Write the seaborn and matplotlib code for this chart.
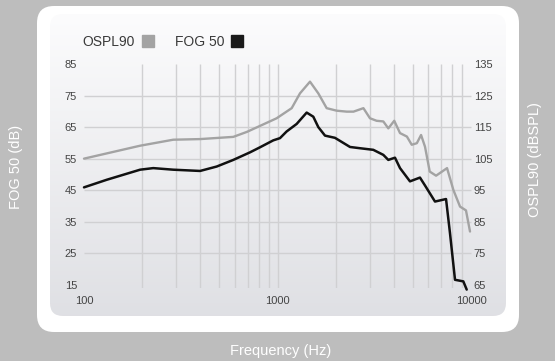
import numpy as np
import matplotlib
matplotlib.use("Agg")
import matplotlib.pyplot as plt
import seaborn as sns
from matplotlib.patches import FancyBboxPatch
from matplotlib.lines import Line2D
from matplotlib.ticker import FixedLocator, NullFormatter

# FOG 50 curve (left axis, dB)
fog_freq = [100, 131, 195, 228, 289, 398, 485, 591, 721, 812, 951, 1030, 1114,
            1256, 1415, 1531, 1625, 1760, 1981, 2370, 2670, 3126, 3522, 3738,
            4047, 4297, 4838, 5448, 5784, 6515, 7430, 7787, 8267, 9126, 9502]
fog_db = [45.9, 48.3, 51.5, 52.0, 51.5, 51.1, 52.5, 54.6, 57.0, 58.6, 60.8, 61.5, 63.6,
          66.0, 69.6, 68.3, 65.0, 62.3, 61.6, 58.7, 58.3, 57.8, 56.2, 54.6,
          55.3, 52.0, 47.8, 49.0, 46.5, 41.4, 42.2, 31.4, 16.6, 16.1, 13.5]

# OSPL90 curve (right axis, dBSPL)
ospl_freq = [100, 195, 289, 398, 591, 696, 990, 1184, 1307, 1472, 1625, 1795,
             2023, 2280, 2470, 2780, 3005, 3253, 3522, 3738, 4012, 4297, 4664,
             4940, 5250, 5520, 5784, 6120, 6600, 7520, 8105, 8776, 9420, 9883]
ospl_db = [105.0, 109.1, 111.0, 111.2, 111.9, 113.5, 117.8, 121.0, 125.7, 129.4, 125.7, 121.0,
           120.2, 119.9, 119.9, 121.0, 117.8, 117.0, 116.8, 114.6, 117.0, 113.1, 112.0,
           109.4, 109.9, 112.5, 108.8, 100.9, 99.6, 102.0, 95.1, 89.8, 88.6, 81.9]

left_ticks = [15, 25, 35, 45, 55, 65, 75, 85]
right_ticks = [65, 75, 85, 95, 105, 115, 125, 135]
x_ticks = [100, 1000, 10000]
x_tick_labels = ["100", "1000", "10000"]
grid_freqs = [200, 300, 400, 500, 600, 700, 800, 900, 1000,
              2000, 3000, 4000, 5000, 6000, 7000, 8000, 9000]
grid_db = [25, 35, 45, 55, 65, 75]

sns.set_theme(style="white")
plt.rcParams["font.family"] = ["Liberation Sans", "DejaVu Sans"]

W, H = 555, 361
fig = plt.figure(figsize=(W / 100, H / 100), dpi=100)
fig.patch.set_facecolor("#bdbdbd")

# background card with gradient panel
bg = fig.add_axes([0, 0, 1, 1])
bg.set_xlim(0, W)
bg.set_ylim(H, 0)
bg.axis("off")
card = FancyBboxPatch((37, 6), 482, 326, boxstyle="round,pad=0,rounding_size=17",
                      facecolor="white", edgecolor="none")
bg.add_patch(card)
panel = FancyBboxPatch((50, 14), 456, 302, boxstyle="round,pad=0,rounding_size=13",
                       facecolor="none", edgecolor="none")
bg.add_patch(panel)
grad = np.linspace(0, 1, 256).reshape(-1, 1)
top_c = np.array([0.988, 0.988, 0.992])
bot_c = np.array([0.875, 0.878, 0.894])
img = top_c + grad[..., None] * (bot_c - top_c)
im = bg.imshow(img, extent=(50, 506, 316, 14), aspect="auto", zorder=1)
im.set_clip_path(panel)

x0, x1, y0, y1 = 84, 471, 64, 288
ax = fig.add_axes([x0 / W, 1 - y1 / H, (x1 - x0) / W, (y1 - y0) / H])
ax.set_facecolor("none")
ax.set_xscale("log")
ax.set_xlim(100, 10000)
ax.set_ylim(14, 85)

grid_c = "#d0d0d2"
ax.vlines(grid_freqs, 14, 85, color=grid_c, linewidth=1.0, zorder=1)
ax.hlines(grid_db, 100, 10000, color=grid_c, linewidth=1.0, zorder=1, clip_on=False)

ax2 = ax.twinx()
ax2.set_facecolor("none")
ax2.set_ylim(64, 135)

sns.lineplot(x=ospl_freq, y=ospl_db, ax=ax2, color="#a3a3a3", linewidth=1.7)
sns.lineplot(x=fog_freq, y=fog_db, ax=ax, color="#111111", linewidth=1.8, zorder=3)
for ln in ax.lines + ax2.lines:
    ln.set_clip_on(False)

ax.xaxis.set_major_locator(FixedLocator(x_ticks))
ax.set_xticklabels(x_tick_labels)
ax.xaxis.set_minor_formatter(NullFormatter())
ax.set_yticks(left_ticks)
ax2.set_yticks(right_ticks)
lab_c = "#444444"
ax.tick_params(axis="x", which="both", length=0, pad=6, labelsize=8, labelcolor=lab_c)
ax.tick_params(axis="y", length=0, pad=5, labelsize=8, labelcolor=lab_c)
ax2.tick_params(axis="y", length=0, pad=2, labelsize=8, labelcolor=lab_c)
ax.set_xlabel("")
ax.set_ylabel("")
ax2.set_ylabel("")
for a in (ax, ax2):
    for s in a.spines.values():
        s.set_visible(False)

# legend: text then swatch
handles = [Line2D([], [], linestyle="none", marker="s", markersize=8.5,
                  markerfacecolor="#a3a3a3", markeredgecolor="#a3a3a3"),
           Line2D([], [], linestyle="none", marker="s", markersize=8.5,
                  markerfacecolor="#1a1a1a", markeredgecolor="#1a1a1a")]
fig.legend(handles, ["OSPL90", "FOG 50"], loc="center left", ncol=2,
           bbox_to_anchor=(75 / W, 1 - 42 / H), frameon=False, markerfirst=False,
           handlelength=0.9, handletextpad=0.5, columnspacing=1.5, borderpad=0,
           prop={"size": 10}, labelcolor="#3a3a3a")

fig.text(281 / W, 1 - 351 / H, "Frequency (Hz)", color="white", fontsize=10.5,
         ha="center", va="center")
fig.text(16 / W, 1 - 167 / H, "FOG 50 (dB)", color="white", fontsize=10.5,
         ha="center", va="center", rotation=90)
fig.text(535 / W, 1 - 160 / H, "OSPL90 (dBSPL)", color="white", fontsize=10.5,
         ha="center", va="center", rotation=90)

fig.savefig("out.png", dpi=100, facecolor=fig.get_facecolor())
